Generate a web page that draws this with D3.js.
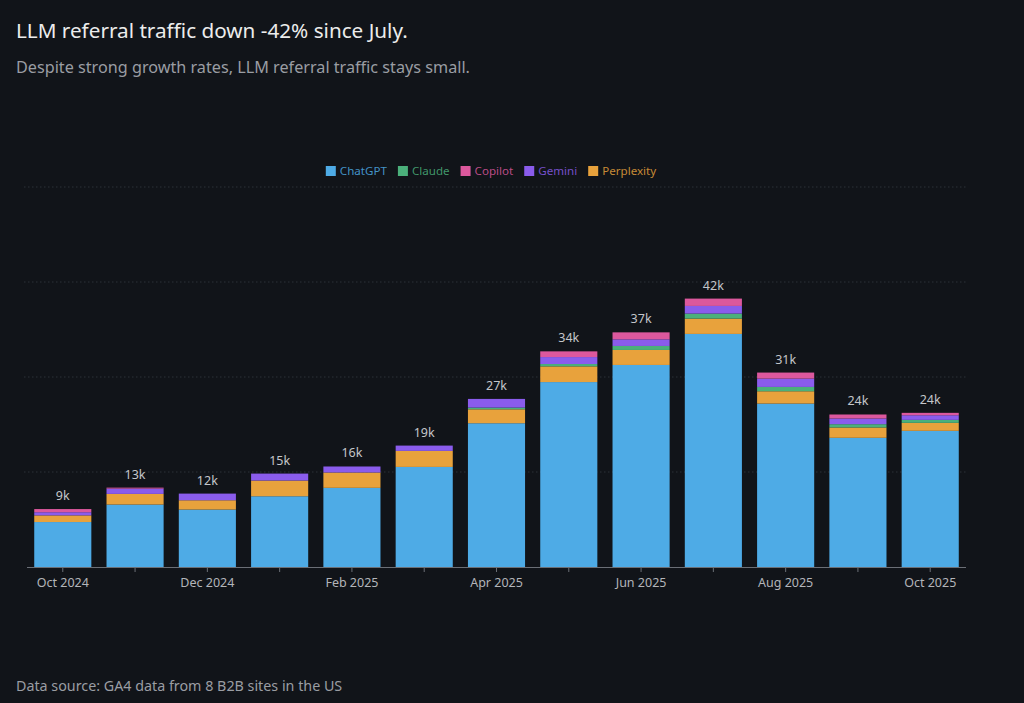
<!DOCTYPE html>
<html>
<head>
<meta charset="utf-8">
<script src="https://cdn.jsdelivr.net/npm/d3@7"></script>
<style>
  html, body { margin: 0; padding: 0; background: #111419; }
  svg { display: block; font-family: "Noto Sans", "Open Sans", sans-serif; }
</style>
</head>
<body>
<script>
const months = [
  "Oct 2024", "Nov 2024", "Dec 2024", "Jan 2025", "Feb 2025", "Mar 2025", "Apr 2025",
  "May 2025", "Jun 2025", "Jul 2025", "Aug 2025", "Sep 2025", "Oct 2025"
]

// visits per month, by source
const chatgpt    = [7100, 9860, 9070, 11170, 12500, 15800, 22700, 29200, 31900, 36800, 25800, 20400, 21500]
const perplexity = [1050, 1680, 1470, 2480, 2420, 2530, 2200, 2480, 2370, 2420, 1950, 1630, 1260]
const claude     = [0, 0, 0, 0, 0, 0, 270, 370, 630, 790, 680, 520, 470]
const gemini     = [500, 840, 1050, 1100, 950, 840, 1370, 1100, 1050, 1210, 1320, 900, 730]
const copilot    = [500, 150, 0, 0, 0, 0, 0, 900, 1100, 1160, 950, 630, 380]

const legendNames = ["ChatGPT", "Claude", "Copilot", "Gemini", "Perplexity"]
const stackOrder = ["ChatGPT", "Perplexity", "Claude", "Gemini", "Copilot"]
const yTicks = [15000, 30000, 45000, 60000]
const labelledMonths = ["Oct 2024", "Dec 2024", "Feb 2025", "Apr 2025", "Jun 2025", "Aug 2025", "Oct 2025"]

const colors = {
  ChatGPT: "#4eabe6",
  Claude: "#4bb07b",
  Copilot: "#dc589d",
  Gemini: "#8a5cec",
  Perplexity: "#e8a23c"
}

const series = {
  ChatGPT: chatgpt,
  Perplexity: perplexity,
  Claude: claude,
  Gemini: gemini,
  Copilot: copilot
}

const table = months.map((m, i) => {
  const row = { month: m }
  stackOrder.forEach(k => row[k] = series[k][i])
  return row
})

const width = 1024
const height = 703

const svg = d3.select("body").append("svg")
  .attr("width", width)
  .attr("height", height)

svg.append("rect").attr("width", width).attr("height", height).attr("fill", "#111419")

// titles
svg.append("text")
  .attr("x", 16).attr("y", 38)
  .attr("fill", "#ececec")
  .attr("font-size", 20.7)
  .text("LLM referral traffic down -42% since July.")

svg.append("text")
  .attr("x", 16).attr("y", 73)
  .attr("fill", "#9a9da3")
  .attr("font-size", 16.2)
  .text("Despite strong growth rates, LLM referral traffic stays small.")

svg.append("text")
  .attr("x", 16).attr("y", 691)
  .attr("fill", "#9a9da3")
  .attr("font-size", 14.3)
  .text("Data source: GA4 data from 8 B2B sites in the US")

// scales
const x = d3.scaleBand()
  .domain(months)
  .range([27, 966])
  .paddingInner(0.21)
  .paddingOuter(0.1)

const y = d3.scaleLinear()
  .domain([0, 60000])
  .range([567, 187])

// grid
svg.append("g")
  .selectAll("line")
  .data(yTicks)
  .join("line")
  .attr("x1", 24).attr("x2", 966)
  .attr("y1", d => y(d)).attr("y2", d => y(d))
  .attr("stroke", "#2c3038")
  .attr("stroke-dasharray", "1.5,2.5")

// stacked bars
const stacked = d3.stack().keys(stackOrder)(table)

svg.append("g")
  .selectAll("g")
  .data(stacked)
  .join("g")
  .attr("fill", d => colors[d.key])
  .selectAll("rect")
  .data(d => d)
  .join("rect")
  .attr("x", d => x(d.data.month))
  .attr("width", x.bandwidth())
  .attr("y", d => y(d[1]))
  .attr("height", d => y(d[0]) - y(d[1]))

// totals
svg.append("g")
  .selectAll("text")
  .data(table)
  .join("text")
  .attr("x", d => x(d.month) + x.bandwidth() / 2)
  .attr("y", d => y(d3.sum(stackOrder, k => d[k])) - 9)
  .attr("text-anchor", "middle")
  .attr("fill", "#c4c6ca")
  .attr("font-size", 12.5)
  .text(d => Math.round(d3.sum(stackOrder, k => d[k]) / 1000) + "k")

// x axis
const xAxis = svg.append("g")
  .attr("transform", `translate(0,${y(0)})`)
  .call(d3.axisBottom(x)
    .tickSizeOuter(0)
    .tickSize(5)
    .tickFormat(m => labelledMonths.includes(m) ? m : ""))

xAxis.select(".domain").attr("stroke", "#6b6f76").attr("d", "M27,0.5H966")
xAxis.selectAll(".tick line").attr("stroke", "#6b6f76")
xAxis.selectAll(".tick text")
  .attr("fill", "#b3b5b9")
  .attr("font-size", 12.5)
  .attr("dy", "0.95em")
  .attr("font-family", "\"Noto Sans\", \"Open Sans\", sans-serif")

// legend
const legend = svg.append("g")
const items = legend.selectAll("g")
  .data(legendNames)
  .join("g")

items.append("rect")
  .attr("width", 10).attr("height", 10)
  .attr("y", -9)
  .attr("fill", d => colors[d])

items.append("text")
  .attr("x", 14)
  .attr("font-size", 11.6)
  .attr("fill", d => colors[d])
  .attr("fill-opacity", 0.85)
  .text(d => d)

let offset = 0
items.each(function () {
  const w = d3.select(this).select("text").node().getComputedTextLength()
  d3.select(this).attr("transform", `translate(${offset},0)`)
  offset += 14 + w + 11
})
offset -= 11
legend.attr("transform", `translate(${491 - offset / 2},175)`)
</script>
</body>
</html>
